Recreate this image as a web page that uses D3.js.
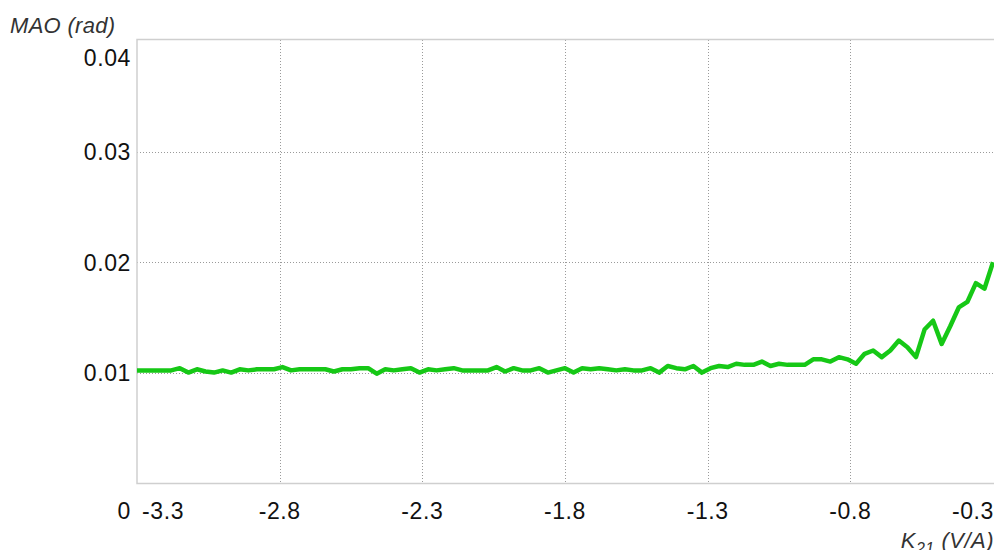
<!DOCTYPE html>
<html>
<head>
<meta charset="utf-8">
<script src="https://cdn.jsdelivr.net/npm/d3@7"></script>
<style>
  html, body { margin: 0; padding: 0; background: #fff; }
  svg { display: block; font-family: "Liberation Sans", Arial, Helvetica, sans-serif; }
</style>
</head>
<body>
<svg id="chart" width="994" height="550"></svg>
<script>
// Sweep of the gain K21 (V/A) and the resulting MAO (rad)
const kStart = -3.3;
const kStep = 0.03;
const maoValues = [
  0.0102, 0.0102, 0.0102, 0.0102, 0.0102, 0.0104, 0.0100, 0.0103, 0.0101, 0.0100,
  0.0102, 0.0100, 0.0103, 0.0102, 0.0103, 0.0103, 0.0103, 0.0105, 0.0102, 0.0103,
  0.0103, 0.0103, 0.0103, 0.0101, 0.0103, 0.0103, 0.0104, 0.0104, 0.0099, 0.0103,
  0.0102, 0.0103, 0.0104, 0.0100, 0.0103, 0.0102, 0.0103, 0.0104, 0.0102, 0.0102,
  0.0102, 0.0102, 0.0105, 0.0101, 0.0104, 0.0102, 0.0102, 0.0104, 0.0100, 0.0102,
  0.0104, 0.0100, 0.0104, 0.0103, 0.0104, 0.0103, 0.0102, 0.0103, 0.0102, 0.0102,
  0.0104, 0.0100, 0.0106, 0.0104, 0.0103, 0.0106, 0.0100, 0.0104, 0.0106, 0.0105,
  0.0108, 0.0107, 0.0107, 0.0110, 0.0106, 0.0108, 0.0107, 0.0107, 0.0107, 0.0112,
  0.0112, 0.0110, 0.0114, 0.0112, 0.0108, 0.0117, 0.0120, 0.0114, 0.0120, 0.0129,
  0.0123, 0.0114, 0.0139, 0.0147, 0.0126, 0.0142, 0.0159, 0.0164, 0.0181, 0.0176,
  0.0200
];
const kValues = maoValues.map((_, i) => +(kStart + kStep * i).toFixed(2));

const xTicks = [-3.3, -2.8, -2.3, -1.8, -1.3, -0.8, -0.3];
const xTickLabels = ["-3.3", "-2.8", "-2.3", "-1.8", "-1.3", "-0.8", "-0.3"];
const yTicks = [0, 0.01, 0.02, 0.03, 0.04];
const yTickLabels = ["0", "0.01", "0.02", "0.03", "0.04"];

const plot = { left: 137, right: 993, top: 40, bottom: 483.5 };

const svg = d3.select("#chart");

const x = d3.scaleLinear().domain([-3.3, -0.3]).range([plot.left, plot.right]);
const y = d3.scaleLinear().domain([0, 0.04]).range([483, 41.4]);

// dotted grid
const grid = svg.append("g").attr("stroke", "#9a9a9a").attr("stroke-width", 1)
  .attr("stroke-dasharray", "1,2");
grid.selectAll("line.v").data(xTicks.slice(1, -1)).join("line")
  .attr("class", "v")
  .attr("x1", d => Math.round(x(d)) + 0.5).attr("x2", d => Math.round(x(d)) + 0.5)
  .attr("y1", plot.top).attr("y2", plot.bottom);
grid.selectAll("line.h").data(yTicks.slice(1, -1)).join("line")
  .attr("class", "h")
  .attr("y1", d => Math.round(y(d)) + 0.5).attr("y2", d => Math.round(y(d)) + 0.5)
  .attr("x1", plot.left).attr("x2", plot.right);

// plot frame
svg.append("rect")
  .attr("x", plot.left).attr("y", plot.top - 0.5)
  .attr("width", plot.right - plot.left + 2).attr("height", plot.bottom - plot.top + 0.5)
  .attr("fill", "none").attr("stroke", "#cfcfcf").attr("stroke-width", 1.5);

// data line
const line = d3.line().x((d, i) => x(kValues[i])).y(d => y(d));
svg.append("path")
  .datum(maoValues)
  .attr("d", line)
  .attr("fill", "none")
  .attr("stroke", "#16c816")
  .attr("stroke-width", 4.5)
  .attr("stroke-linejoin", "round");

// y tick labels (kept inside the plot height)
svg.append("g").selectAll("text").data(yTicks).join("text")
  .attr("x", 131)
  .attr("y", d => d === 0 ? 519 : Math.max(y(d) + 8.5, 66))
  .attr("text-anchor", "end")
  .attr("font-size", 23)
  .attr("letter-spacing", 0.6)
  .attr("fill", "#111")
  .text((d, i) => yTickLabels[i]);

// x tick labels (end labels kept inside the plot width)
svg.append("g").selectAll("text").data(xTicks).join("text")
  .attr("x", (d, i) => i === 0 ? 142 : i === xTicks.length - 1 ? 994 : x(d))
  .attr("y", 519)
  .attr("text-anchor", (d, i) => i === 0 ? "start" : i === xTicks.length - 1 ? "end" : "middle")
  .attr("font-size", 23)
  .attr("letter-spacing", 0.6)
  .attr("fill", "#111")
  .text((d, i) => xTickLabels[i]);

// axis titles
svg.append("text")
  .attr("x", 10).attr("y", 33)
  .attr("font-size", 22).attr("font-style", "italic")
  .attr("letter-spacing", 0.3)
  .attr("fill", "#333")
  .text("MAO (rad)");

const xt = svg.append("text")
  .attr("x", 994).attr("y", 548)
  .attr("text-anchor", "end")
  .attr("font-size", 22).attr("font-style", "italic")
  .attr("letter-spacing", 0.5)
  .attr("fill", "#333");
xt.append("tspan").text("K");
xt.append("tspan").attr("font-size", 16).attr("dy", 6).text("21");
xt.append("tspan").attr("dy", -6).text(" (V/A)");
</script>
</body>
</html>
